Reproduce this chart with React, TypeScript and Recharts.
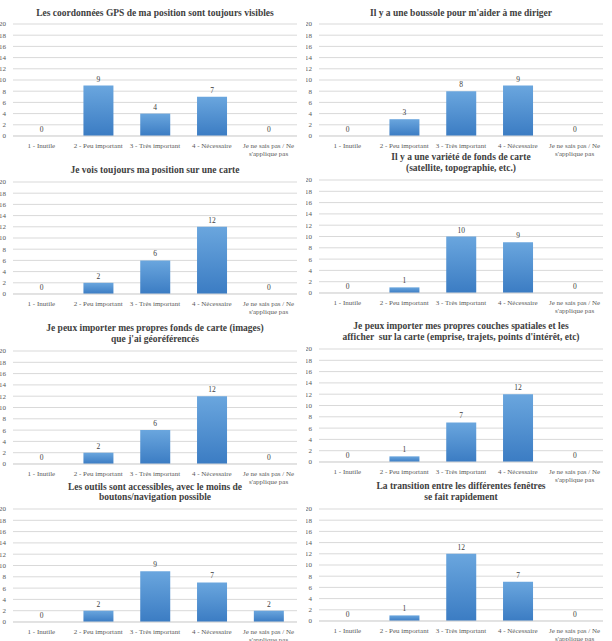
import React from "react";
import { BarChart, Bar, XAxis, YAxis, CartesianGrid, LabelList } from "recharts";

// Response categories shared by all eight questions
const CATEGORIES = [
  "1 - Inutile",
  "2 - Peu important",
  "3 - Très important",
  "4 - Nécessaire",
  "Je ne sais pas / Ne s'applique pas",
];
const Y_TICKS = [0, 2, 4, 6, 8, 10, 12, 14, 16, 18, 20];

// Counts per question (same order as CATEGORIES)
const GPS_VISIBLE = [0, 9, 4, 7, 0];
const BOUSSOLE = [0, 3, 8, 9, 0];
const POSITION_CARTE = [0, 2, 6, 12, 0];
const FONDS_VARIETE = [0, 1, 10, 9, 0];
const FONDS_IMPORT = [0, 2, 6, 12, 0];
const COUCHES_IMPORT = [0, 1, 7, 12, 0];
const OUTILS_ACCESS = [0, 2, 9, 7, 2];
const TRANSITION = [0, 1, 12, 7, 0];

const TITLE_GPS = ["Les coordonnées GPS de ma position sont toujours visibles"];
const TITLE_BOUSSOLE = ["Il y a une boussole pour m'aider à me diriger"];
const TITLE_POSITION = ["Je vois toujours ma position sur une carte"];
const TITLE_FONDS_VARIETE = ["Il y a une variété de fonds de carte", "(satellite, topographie, etc.)"];
const TITLE_FONDS_IMPORT = ["Je peux importer mes propres fonds de carte (images)", "que j'ai géoréférencés"];
const TITLE_COUCHES = [
  "Je peux importer mes propres couches spatiales et les",
  "afficher  sur la carte (emprise, trajets, points d'intérêt, etc)",
];
const TITLE_OUTILS = ["Les outils sont accessibles, avec le moins de", "boutons/navigation possible"];
const TITLE_TRANSITION = ["La transition entre les différentes fenêtres", "se fait rapidement"];

// layout of each small chart on the page
const PANELS = [
  { values: GPS_VISIBLE, title: TITLE_GPS, left: 0, titleY: [13], plotTop: 24, plotBottom: 136 },
  { values: BOUSSOLE, title: TITLE_BOUSSOLE, left: 306, titleY: [13], plotTop: 24, plotBottom: 136 },
  { values: POSITION_CARTE, title: TITLE_POSITION, left: 0, titleY: [170], plotTop: 182, plotBottom: 294 },
  { values: FONDS_VARIETE, title: TITLE_FONDS_VARIETE, left: 306, titleY: [157, 168], plotTop: 180, plotBottom: 293 },
  { values: FONDS_IMPORT, title: TITLE_FONDS_IMPORT, left: 0, titleY: [328, 339], plotTop: 351, plotBottom: 464 },
  { values: COUCHES_IMPORT, title: TITLE_COUCHES, left: 306, titleY: [326, 337], plotTop: 349, plotBottom: 462 },
  { values: OUTILS_ACCESS, title: TITLE_OUTILS, left: 0, titleY: [487, 497], plotTop: 509, plotBottom: 622 },
  { values: TRANSITION, title: TITLE_TRANSITION, left: 306, titleY: [486, 497], plotTop: 509, plotBottom: 621 },
];

const SERIF = "'Liberation Serif', 'DejaVu Serif', serif";
const X_AXIS_H = 20;
const EXTRA_BOTTOM = 10;

function wrap(label: string, max: number): string[] {
  const lines: string[] = [];
  let cur = "";
  for (const w of label.split(" ")) {
    const next = cur ? cur + " " + w : w;
    if (next.length > max && cur) {
      lines.push(cur);
      cur = w;
    } else {
      cur = next;
    }
  }
  if (cur) lines.push(cur);
  return lines;
}

const CategoryTick = (props: any) => {
  const { x, y, payload } = props;
  const lines = wrap(payload.value, 19);
  return (
    <text x={x} y={y} textAnchor="middle" fontSize={7} fill="#595959" fontFamily={SERIF}>
      {lines.map((l, i) => (
        <tspan key={i} x={x} dy={i === 0 ? "0.71em" : 8}>
          {l}
        </tspan>
      ))}
    </text>
  );
};

function Panel({ p, idx }: { p: (typeof PANELS)[number]; idx: number }) {
  const chartTop = p.plotTop - 6;
  const height = p.plotBottom - chartTop + X_AXIS_H + EXTRA_BOTTOM;
  const data = CATEGORIES.map((c, i) => ({ category: c, count: p.values[i] }));
  const gid = `barGrad${idx}`;
  return (
    <>
      {p.title.map((t, i) => (
        <div
          key={i}
          style={{
            position: "absolute",
            left: p.left,
            width: 310,
            top: p.titleY[i] - 7,
            height: 14,
            lineHeight: "14px",
            textAlign: "center",
            fontFamily: SERIF,
            fontWeight: "bold",
            fontSize: 9.5,
            color: "#404040",
            whiteSpace: "pre",
          }}
        >
          {t}
        </div>
      ))}
      <div style={{ position: "absolute", left: p.left, top: chartTop }}>
        <BarChart
          width={306}
          height={height}
          data={data}
          margin={{ top: 6, right: 9, bottom: EXTRA_BOTTOM, left: 0 }}
          barCategoryGap="24%"
        >
          <defs>
            <linearGradient id={gid} x1="0" y1="0" x2="0" y2="1">
              <stop offset="0%" stopColor="#6aa6de" />
              <stop offset="100%" stopColor="#3b7cc3" />
            </linearGradient>
          </defs>
          <CartesianGrid vertical={false} stroke="#d9d9d9" />
          <XAxis
            dataKey="category"
            height={X_AXIS_H}
            interval={0}
            tickLine={false}
            axisLine={{ stroke: "#d9d9d9" }}
            tickSize={0}
            tickMargin={7}
            tick={<CategoryTick />}
          />
          <YAxis
            width={13}
            domain={[0, 20]}
            ticks={Y_TICKS}
            interval={0}
            tickLine={false}
            axisLine={false}
            tickSize={0}
            tickMargin={7}
            tick={{ fontSize: 7, fill: "#595959", fontFamily: SERIF }}
          />
          <Bar dataKey="count" fill={`url(#${gid})`} minPointSize={0.01} isAnimationActive={false}>
            <LabelList
              dataKey="count"
              position="top"
              offset={4}
              style={{ fontSize: 7.5, fill: "#404040", fontFamily: SERIF }}
            />
          </Bar>
        </BarChart>
      </div>
    </>
  );
}

export default function App() {
  return (
    <div
      style={{
        position: "absolute",
        left: 0,
        top: 0,
        width: 612,
        height: 641,
        background: "#ffffff",
        overflow: "hidden",
      }}
    >
      {PANELS.map((p, i) => (
        <Panel key={i} p={p} idx={i} />
      ))}
    </div>
  );
}
